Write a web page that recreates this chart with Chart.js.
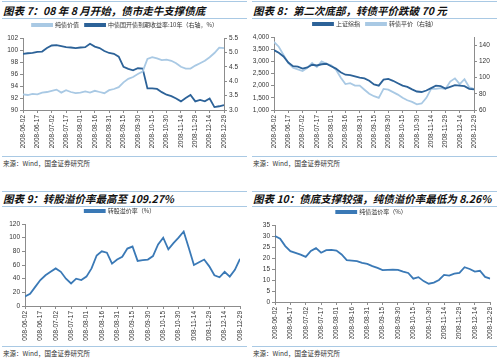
<!DOCTYPE html>
<html lang="zh-CN">
<head>
<meta charset="UTF-8">
<title>2008 转债市场回顾</title>
<script src="https://cdn.jsdelivr.net/npm/chart.js"></script>
<style>
  * { box-sizing: border-box; }
  body {
    margin: 0;
    width: 500px;
    height: 360px;
    background: #fff;
    position: relative;
    overflow: hidden;
    font-family: 'Noto Sans CJK SC', 'Liberation Sans', sans-serif;
  }
  .panel { position: absolute; width: 250px; height: 180px; }
  .rule { position: absolute; left: 2px; right: 3px; height: 1px; background: #a9c9e4; }
  .title {
    position: absolute;
    left: 3px;
    font-size: 10.5px;
    font-weight: bold;
    font-style: italic;
    color: #111;
    white-space: nowrap;
    line-height: 12px;
  }
  .src { position: absolute; left: 3px; font-size: 6.5px; color: #333; line-height: 8px; }
  canvas { position: absolute; }
</style>
</head>
<body>

<div class="panel" style="left:0;top:0">
  <div class="rule" style="top:1px"></div>
  <div class="title" style="top:5px">图表 7：08 年 8 月开始，债市走牛支撑债底</div>
  <div class="rule" style="top:18px"></div>
  <canvas id="c1" width="250" height="135" style="left:0;top:16px"></canvas>
  <div class="rule" style="top:156px"></div>
  <div class="src" style="top:159px">来源：Wind，国金证券研究所</div>
</div>

<div class="panel" style="left:250px;top:0">
  <div class="rule" style="top:1px"></div>
  <div class="title" style="top:5px">图表 8：第二次底部，转债平价跌破 70 元</div>
  <div class="rule" style="top:18px"></div>
  <canvas id="c2" width="250" height="136" style="left:0;top:15px"></canvas>
  <div class="rule" style="top:156px"></div>
  <div class="src" style="top:159px">来源：Wind，国金证券研究所</div>
</div>

<div class="panel" style="left:0;top:180px">
  <div class="rule" style="top:11px"></div>
  <div class="title" style="top:13px">图表 9：转股溢价率最高至 109.27%</div>
  <div class="rule" style="top:26px"></div>
  <canvas id="c3" width="250" height="139" style="left:0;top:22px"></canvas>
  <div class="rule" style="top:166px"></div>
  <div class="src" style="top:169px">来源：Wind，国金证券研究所</div>
</div>

<div class="panel" style="left:250px;top:180px">
  <div class="rule" style="top:11px"></div>
  <div class="title" style="top:13px">图表 10：债底支撑较强，纯债溢价率最低为 8.26%</div>
  <div class="rule" style="top:26px"></div>
  <canvas id="c4" width="250" height="136" style="left:0;top:23px"></canvas>
  <div class="rule" style="top:166px"></div>
  <div class="src" style="top:169px">来源：Wind，国金证券研究所</div>
</div>

<script>
// days after 2008-06-02
const days = [0, 5, 10, 15, 20, 25, 30, 35, 40, 45, 50, 55, 60, 65, 70, 75, 80, 85, 90, 95, 100,
  105, 110, 115, 120, 125, 130, 135, 140, 145, 150, 155, 160, 165, 170, 175, 180, 185, 190, 195, 200, 205, 210];

// chart 7
const pureBondValue = [92.6, 92.5, 92.7, 92.6, 92.9, 93.0, 93.2, 93.4, 92.9, 93.3, 93.0, 92.8, 92.9, 93.1, 92.9,
  93.2, 93.0, 92.8, 93.3, 93.5, 93.8, 94.6, 95.2, 95.5, 96.0, 96.4, 98.5, 98.8, 98.6, 98.3, 98.4, 98.2, 97.8,
  97.2, 96.9, 96.9, 97.4, 97.8, 98.2, 98.8, 99.5, 100.4, 100.3];
const govYield10y = [4.95, 4.97, 4.98, 5.02, 5.03, 5.15, 5.24, 5.25, 5.22, 5.18, 5.17, 5.15, 5.17, 5.18, 5.30,
  5.20, 5.15, 5.05, 4.98, 4.95, 4.85, 4.50, 4.43, 4.38, 4.45, 4.44, 3.75, 3.75, 3.73, 3.62, 3.53, 3.48, 3.40,
  3.30, 3.42, 3.52, 3.30, 3.35, 3.30, 3.40, 3.10, 3.13, 3.17];

// chart 8
const shIndex = [3460, 3350, 3200, 2950, 2800, 2780, 2700, 2750, 2860, 2830, 2880, 2900, 2800, 2700, 2550,
  2450, 2430, 2380, 2330, 2300, 2200, 2050, 2000, 2250, 2280, 2200, 2100, 2000, 1950, 1850, 1760, 1740, 1800,
  1900, 2000, 1980, 1880, 1950, 2020, 2000, 1980, 1870, 1850];
const convParity = [144, 138, 128, 118, 112, 110, 108, 112, 118, 113, 120, 117, 115, 110, 100, 92, 93, 90, 90,
  85, 80, 77, 75, 86, 85, 82, 79, 75, 72, 70, 67, 68, 75, 86, 86, 87, 86, 95, 99, 92, 98, 88, 86];

// chart 9
const convPremium = [14, 18, 28, 38, 45, 50, 55, 50, 40, 33, 40, 38, 43, 55, 74, 80, 78, 62, 68, 72, 84, 87,
  66, 67, 68, 73, 90, 100, 83, 92, 100, 109, 85, 60, 64, 68, 58, 45, 42, 50, 43, 53, 69];

// chart 10
const bondPremium = [30, 28.8, 25.4, 23.1, 22.3, 21.5, 20.5, 23.2, 24.5, 22.4, 23.6, 23.7, 23.4, 21.6, 19,
  18.8, 18.6, 17.8, 17.3, 16.3, 15.5, 14.5, 14.6, 14.7, 14.6, 13.8, 13.2, 10.6, 11.3, 9.5, 8.3, 8.8, 10.0,
  12.3, 12.0, 12.9, 13.2, 15.8, 15.0, 13.8, 14.2, 11.4, 10.6];

const DARK = '#2c6298';
const LIGHT = '#a9c9e4';
const MID = '#3a79b6';
const AXIS = '#8c8c8c';
const tickFont = { family: "'Liberation Sans', Arial, sans-serif", size: 6.5 };

function toPoints(ys) {
  return days.map((d, i) => ({ x: d, y: ys[i] }));
}

function dateLabel(v) {
  return new Date(Date.UTC(2008, 5, 2 + v)).toISOString().slice(0, 10);
}

function line(label, ys, color, axis) {
  return {
    label: label,
    data: toPoints(ys),
    borderColor: color,
    backgroundColor: color,
    borderWidth: 1.8,
    pointRadius: 0,
    tension: 0,
    yAxisID: axis || 'y'
  };
}

function xAxis(h) {
  return {
    type: 'linear',
    min: 0,
    max: 210,
    ticks: {
      stepSize: 15,
      autoSkip: false,
      minRotation: 90,
      maxRotation: 90,
      padding: 2,
      color: '#333',
      font: tickFont,
      callback: dateLabel
    },
    grid: { drawOnChartArea: false, tickLength: 3, color: AXIS },
    border: { color: AXIS },
    afterFit: s => { s.height = h; }
  };
}

function yAxis(pos, min, max, step, w, fmt) {
  return {
    position: pos,
    min: min,
    max: max,
    ticks: {
      stepSize: step,
      padding: 2,
      color: '#333',
      font: tickFont,
      callback: fmt || (v => v)
    },
    grid: { drawOnChartArea: false, tickLength: 3, color: AXIS },
    border: { color: AXIS },
    afterFit: s => { s.width = w; }
  };
}

function makeChart(id, datasets, scales, padRight) {
  return new Chart(document.getElementById(id), {
    type: 'line',
    data: { datasets: datasets },
    options: {
      responsive: false,
      animation: false,
      layout: { padding: { top: 0, right: padRight || 0, bottom: 0, left: 0 } },
      plugins: {
        tooltip: { enabled: false },
        legend: {
          position: 'top',
          labels: {
            boxWidth: 20,
            boxHeight: 2,
            padding: 6,
            color: '#333',
            font: { family: "'Noto Sans CJK SC', sans-serif", size: 6 }
          }
        }
      },
      scales: scales
    }
  });
}

makeChart('c1', [
  line('纯债价值', pureBondValue, LIGHT, 'y'),
  line('中债国开债到期收益率:10年（右轴，%）', govYield10y, DARK, 'y1')
], {
  x: xAxis(41),
  y: yAxis('left', 90, 102, 2, 23),
  y1: yAxis('right', 3.0, 5.5, 0.5, 26, v => v.toFixed(1))
});

makeChart('c2', [
  line('上证综指', shIndex, DARK, 'y'),
  line('转债平价（右轴）', convParity, LIGHT, 'y1')
], {
  x: xAxis(41),
  y: yAxis('left', 1000, 4000, 500, 24, v => v.toLocaleString('en-US')),
  y1: yAxis('right', 60, 150, 10, 26)
});

makeChart('c3', [
  line('转股溢价率（%）', convPremium, MID)
], {
  x: xAxis(35),
  y: yAxis('left', 0, 120, 20, 25)
}, 10);

makeChart('c4', [
  line('纯债溢价率（%）', bondPremium, MID)
], {
  x: xAxis(37),
  y: yAxis('left', 0, 35, 5, 25)
}, 7);
</script>
</body>
</html>
